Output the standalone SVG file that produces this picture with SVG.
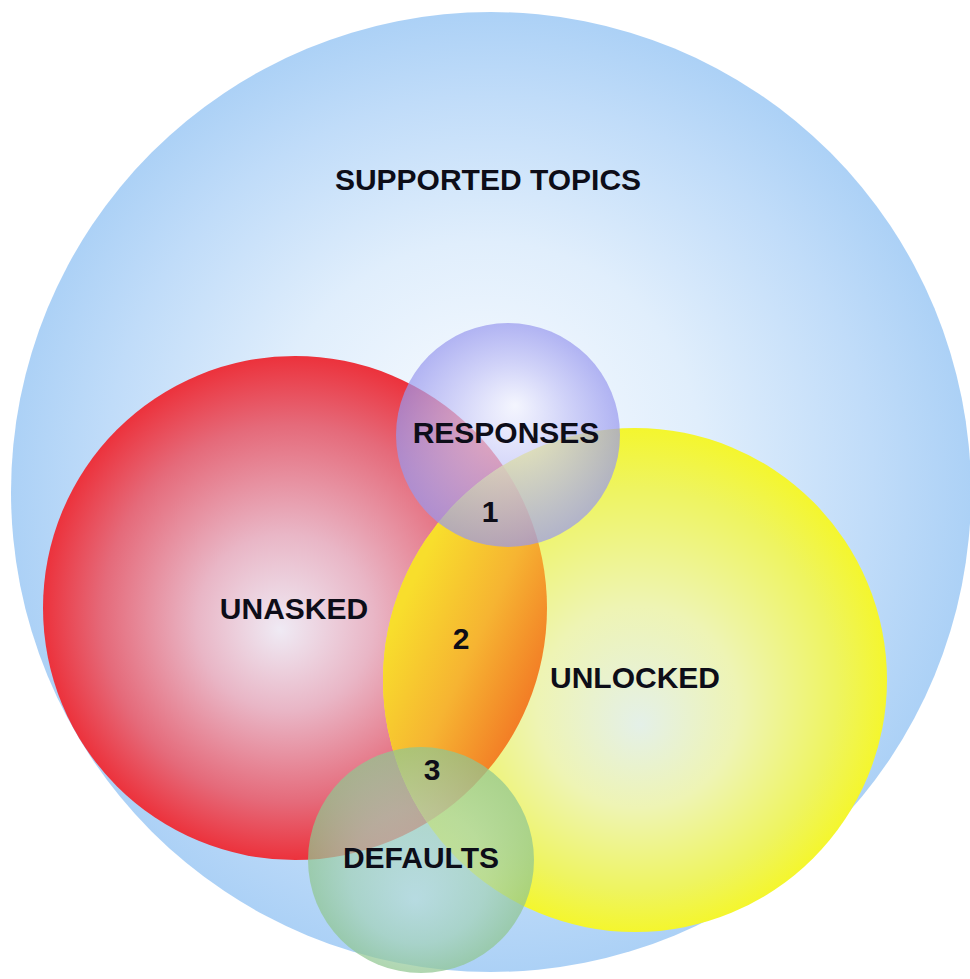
<svg xmlns="http://www.w3.org/2000/svg" width="970" height="979" viewBox="0 0 970 979">
<defs>
<radialGradient id="gBlue" gradientUnits="userSpaceOnUse" cx="491" cy="492" r="480" fx="480" fy="430">
<stop offset="0" stop-color="#f8fbff"/>
<stop offset="0.45" stop-color="#e0eefc"/>
<stop offset="0.8" stop-color="#c0dcf9"/>
<stop offset="1" stop-color="#acd1f6"/>
</radialGradient>
<radialGradient id="gRed" gradientUnits="userSpaceOnUse" cx="295" cy="608" r="252" fx="280" fy="630">
<stop offset="0" stop-color="#efeaf4"/>
<stop offset="0.35" stop-color="#e9b6c6"/>
<stop offset="0.75" stop-color="#e56a7a"/>
<stop offset="1" stop-color="#ec323c"/>
</radialGradient>
<radialGradient id="gYellow" gradientUnits="userSpaceOnUse" cx="635" cy="680" r="252" fx="640" fy="725">
<stop offset="0" stop-color="#e4f0e8"/>
<stop offset="0.4" stop-color="#eef4b4"/>
<stop offset="0.8" stop-color="#eef460"/>
<stop offset="1" stop-color="#f4f62e"/>
</radialGradient>
<linearGradient id="gLens" gradientUnits="userSpaceOnUse" x1="395" y1="620" x2="545" y2="690">
<stop offset="0" stop-color="#f8de2c"/>
<stop offset="0.5" stop-color="#f6b432"/>
<stop offset="1" stop-color="#f27624"/>
</linearGradient>
<radialGradient id="gPurple" gradientUnits="userSpaceOnUse" cx="508" cy="435" r="112" fx="515" fy="405">
<stop offset="0" stop-color="#f4f4fe"/>
<stop offset="0.5" stop-color="#c4c4f6"/>
<stop offset="1" stop-color="#9898ee"/>
</radialGradient>
<radialGradient id="gGreen" gradientUnits="userSpaceOnUse" cx="421" cy="860" r="113" fx="415" fy="900">
<stop offset="0" stop-color="#b6dcd8"/>
<stop offset="0.6" stop-color="#a4d2b8"/>
<stop offset="1" stop-color="#90c690"/>
</radialGradient>
<clipPath id="clipRed">
<circle cx="295" cy="608" r="252"/>
</clipPath>
</defs>
<style>
text { font-family: "Liberation Sans", Arial, Helvetica, sans-serif; font-weight: bold; font-size: 30px; fill: #0d0d18; text-anchor: middle; }
</style>
<g id="supported-topics">
<circle cx="491" cy="492" r="480" fill="url(#gBlue)"/>
<text x="488" y="190">SUPPORTED TOPICS</text>
</g>
<g id="unasked">
<circle cx="295" cy="608" r="252" fill="url(#gRed)"/>
</g>
<g id="unlocked">
<circle cx="635" cy="680" r="252" fill="url(#gYellow)"/>
</g>
<g id="region-2">
<circle cx="635" cy="680" r="252" fill="url(#gLens)" clip-path="url(#clipRed)"/>
</g>
<g id="responses">
<circle cx="508" cy="435" r="112" fill="url(#gPurple)" opacity="0.7"/>
</g>
<g id="defaults">
<circle cx="421" cy="860" r="113" fill="url(#gGreen)" opacity="0.72"/>
</g>
<g id="labels">
<text x="294" y="619">UNASKED</text>
<text x="635" y="688">UNLOCKED</text>
<text x="506" y="443">RESPONSES</text>
<text x="421" y="868">DEFAULTS</text>
<text x="490" y="522">1</text>
<text x="461" y="649">2</text>
<text x="432" y="780">3</text>
</g>
<g id="connectors"/>
</svg>
